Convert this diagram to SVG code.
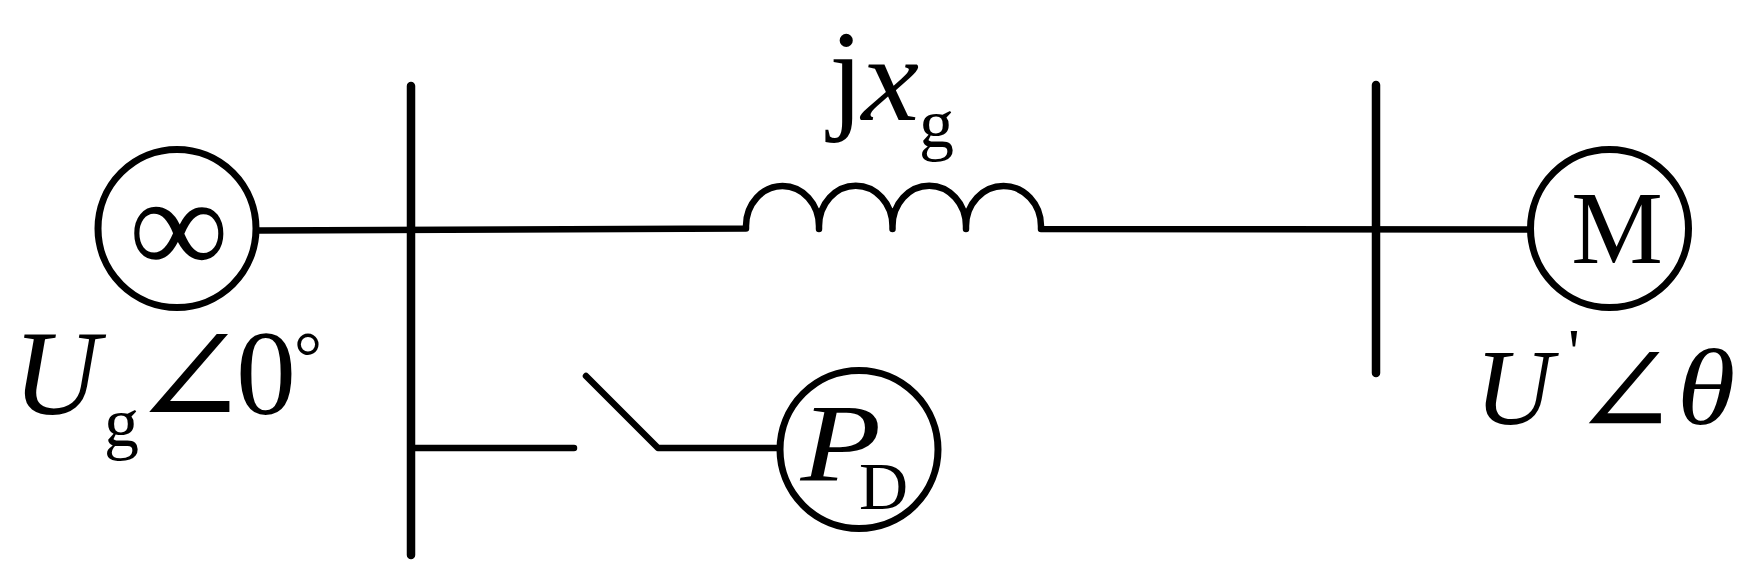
<svg xmlns="http://www.w3.org/2000/svg" width="1761" height="585" viewBox="0 0 1761 585">
<style>
.w{fill:none;stroke:#000;stroke-width:6.500;stroke-linecap:round;stroke-linejoin:round}
.b{fill:none;stroke:#000;stroke-width:8.500;stroke-linecap:round}
.n{fill:#fff;stroke:#000;stroke-width:7}
text{font-family:"Liberation Serif","DejaVu Serif",serif;fill:#000}
.i{font-style:italic}
</style>
<rect width="1761" height="585" fill="#fff"/>
<g id="connectors">
<path class="w" d="M259 230.500L746 228.500V226A36.500 40 0 0 1 819 226V229M819 226A36.500 40 0 0 1 892.500 226V229M892.500 226A36.500 40 0 0 1 966 226V229M966 226A37.500 40 0 0 1 1041 226V229L1530 229.500"/>
<path class="w" d="M414 448H574M586 376L658 448H778"/>
</g>
<g id="bus1"><line class="b" x1="411" y1="86" x2="411" y2="555"/></g>
<g id="bus2"><line class="b" x1="1376" y1="85" x2="1376" y2="373"/></g>
<g id="source"><circle class="n" cx="177" cy="228.500" r="79"/><text x="179" y="274" font-size="140" text-anchor="middle">∞</text></g>
<g id="motor"><circle class="n" cx="1609.500" cy="228.500" r="79"/><text x="1617" y="263" font-size="103" text-anchor="middle">M</text></g>
<g id="load"><circle class="n" cx="859" cy="449.500" r="79"/><text class="i" transform="translate(800.500 480) scale(1.200 1)" font-size="110">P</text><text x="859" y="509" font-size="68">D</text></g>
<g id="label-reactance"><text x="829" y="116" font-size="124">j</text><text class="i" transform="translate(861.500 120) scale(1.100 1.030)" font-size="118">x</text><text x="919" y="147" font-size="70">g</text></g>
<g id="label-source"><text class="i" x="13" y="414" font-size="120">U</text><text x="104" y="446" font-size="70">g</text><text transform="translate(129.400 426) scale(1.210 1.180)" font-size="118">∠</text><text x="236" y="414" font-size="120">0</text><text x="294" y="380" font-size="70">°</text></g>
<g id="label-motor"><text class="i" x="1475" y="424" font-size="108">U</text><text x="1568" y="374" font-size="66">'</text><text transform="translate(1571 435.500) scale(1.190 1.175)" font-size="108">∠</text><text class="i" transform="translate(1677 424) scale(1.100 1)" font-size="108">θ</text></g>
</svg>
